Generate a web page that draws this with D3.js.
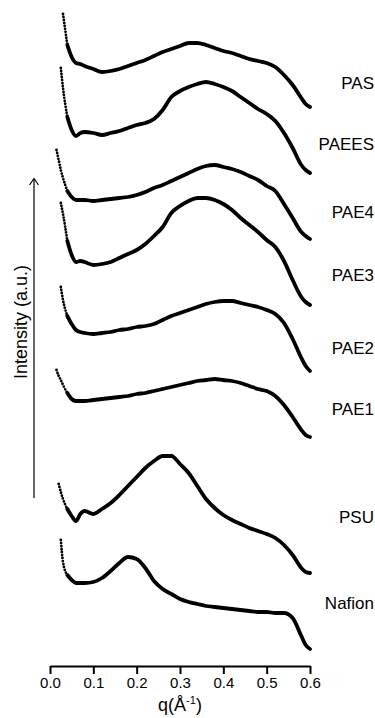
<!DOCTYPE html>
<html>
<head>
<meta charset="utf-8">
<script src="https://cdn.jsdelivr.net/npm/d3@7"></script>
<style>
  html, body { margin: 0; padding: 0; background: #fff; }
  svg { display: block; }
</style>
</head>
<body>
<svg id="chart"></svg>
<script>
// ─── Data ──────────────────────────────────────────────────────────────────
// q grid (Å⁻¹), shared by every curve
const qGrid = [0.015, 0.02, 0.025, 0.03, 0.04, 0.05, 0.06, 0.07, 0.08, 0.1, 0.12, 0.14,
  0.16, 0.18, 0.2, 0.22, 0.24, 0.26, 0.28, 0.3, 0.32, 0.34, 0.36, 0.38, 0.4, 0.42,
  0.44, 0.46, 0.48, 0.5, 0.52, 0.54, 0.56, 0.58, 0.59, 0.6];

// stacked intensities (a.u., offset already applied); null = no point
const PAS    = [null, null, null, 646, 615, 603, 597, 596, 594, 591, 588, 589, 591, 594, 597, 600, 604, 608, 611, 614, 617, 617, 615, 612, 609, 607, 604, 601, 599, 597, 593, 585, 575, 562, 556, 553];
const PAEES  = [null, null, 592, 572, 543, 530, 524, 527, 528, 527, 525, 527, 529, 532, 535, 537, 541, 550, 563, 569, 573, 576, 578, 576, 573, 569, 563, 557, 551, 546, 539, 527, 512, 495, 490, 487];
const PAE4   = [510, 500, 490, 482, 469, 463, 460, 460, 460, 459, 460, 461, 462, 463, 465, 468, 472, 475, 479, 483, 487, 491, 494, 495, 493, 491, 488, 484, 480, 474, 469, 456, 442, 428, 424, 421];
const PAE3   = [null, null, 457, 446, 419, 405, 398, 399, 398, 395, 396, 398, 402, 406, 410, 416, 424, 433, 447, 454, 459, 462, 462, 460, 456, 450, 442, 435, 428, 420, 413, 399, 380, 363, 358, 355];
const PAE2   = [null, null, 373, 360, 344, 336, 330, 328, 327, 326, 327, 328, 330, 331, 333, 334, 336, 340, 344, 347, 350, 353, 356, 358, 359, 359, 357, 355, 353, 350, 346, 337, 321, 302, 294, 289];
const PAE1   = [290, 284, 280, 275, 267, 261, 259, 259, 259, 260, 261, 262, 263, 264, 266, 267, 269, 271, 273, 275, 277, 279, 280, 281, 280, 279, 277, 274, 271, 269, 264, 255, 243, 230, 225, 223];
const PSU    = [null, 176, 168, 161, 151, 144, 139, 146, 149, 146, 151, 157, 165, 174, 183, 192, 199, 204, 204, 196, 187, 174, 161, 152, 145, 140, 136, 132, 129, 126, 122, 115, 105, 92, 88, 87];
const Nafion = [null, null, 120, 98, 85, 80, 77, 77, 77, 78, 82, 89, 97, 103, 101, 92, 79, 71, 66, 61, 58, 56, 54, 53, 52, 51, 50, 49, 48, 48, 47, 47, 42, 24, 15, 11];

const seriesNames  = ["PAS", "PAEES", "PAE4", "PAE3", "PAE2", "PAE1", "PSU", "Nafion"];
const seriesValues = [PAS, PAEES, PAE4, PAE3, PAE2, PAE1, PSU, Nafion];
// level (a.u.) at which each name sits on the right
const labelLevels  = [577, 516, 448, 385, 312, 251, 143, 57];

const xTicks = [0.0, 0.1, 0.2, 0.3, 0.4, 0.5, 0.6];

// ─── Layout ────────────────────────────────────────────────────────────────
const W = 375, H = 718;
const FONT = "'Liberation Sans', Arial, Helvetica, sans-serif";

const svg = d3.select("#chart").attr("width", W).attr("height", H)
  .style("font-family", FONT);

const x = d3.scaleLinear().domain([0, 0.6]).range([50, 310]);
const y = d3.scaleLinear().domain([0, 660]).range([660, 0]);

// ─── Curves ────────────────────────────────────────────────────────────────
const line = d3.line()
  .defined(d => d.v != null)
  .x(d => x(d.q))
  .y(d => y(d.v))
  .curve(d3.curveMonotoneX);

const curveG = svg.append("g");
seriesValues.forEach(vals => {
  const pts = qGrid.map((q, i) => ({ q, v: vals[i] })).filter(d => d.v != null);
  const head = pts.filter(d => d.q <= 0.04);   // steep low-q rise: sparse dots
  const body = pts.filter(d => d.q >= 0.04);

  curveG.append("path")
    .attr("d", line(head))
    .attr("fill", "none")
    .attr("stroke", "#000")
    .attr("stroke-width", 2.8)
    .attr("stroke-linecap", "round")
    .attr("stroke-dasharray", "0 3");

  curveG.append("path")
    .attr("d", line(body))
    .attr("fill", "none")
    .attr("stroke", "#000")
    .attr("stroke-width", 3.8)
    .attr("stroke-linejoin", "round")
    .attr("stroke-linecap", "round");
});

// ─── Series names ─────────────────────────────────────────────────────────
svg.append("g").selectAll("text")
  .data(seriesNames)
  .join("text")
  .attr("x", 374)
  .attr("y", (d, i) => y(labelLevels[i]) + 6)
  .attr("text-anchor", "end")
  .attr("font-size", "17px")
  .attr("fill", "#000")
  .text(d => d);

// ─── X axis ────────────────────────────────────────────────────────────────
const xAxis = svg.append("g")
  .attr("transform", "translate(0,666)")
  .call(d3.axisBottom(x).tickValues(xTicks).tickFormat(d3.format(".1f"))
    .tickSize(8).tickSizeOuter(0));
xAxis.select(".domain").attr("stroke", "#000").attr("stroke-width", 2);
xAxis.selectAll(".tick line").attr("stroke", "#000").attr("stroke-width", 2);
xAxis.selectAll(".tick text")
  .attr("font-family", FONT).attr("font-size", "15px").attr("fill", "#000");

const xTitle = svg.append("text")
  .attr("x", 180).attr("y", 711)
  .attr("text-anchor", "middle")
  .attr("font-size", "18px")
  .attr("fill", "#000");
xTitle.append("tspan").text("q(Å");
xTitle.append("tspan").attr("font-size", "11px").attr("dy", -7).text("-1");
xTitle.append("tspan").attr("dy", 7).text(")");

// ─── Y label + arrow ──────────────────────────────────────────────────────
svg.append("text")
  .attr("transform", "translate(26.5,322) rotate(-90)")
  .attr("text-anchor", "middle")
  .attr("font-size", "18px")
  .attr("fill", "#000")
  .text("Intensity (a.u.)");

svg.append("line")
  .attr("x1", 34).attr("x2", 34).attr("y1", 498).attr("y2", 179)
  .attr("stroke", "#000").attr("stroke-width", 1.2);
svg.append("polyline")
  .attr("points", "29.5,185 34,178.5 38.5,185")
  .attr("fill", "none").attr("stroke", "#000").attr("stroke-width", 1.2);
</script>
</body>
</html>
